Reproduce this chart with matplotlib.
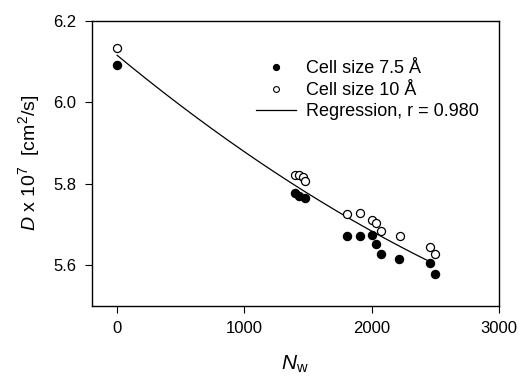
import numpy as np
import matplotlib
matplotlib.use("Agg")
import matplotlib.pyplot as plt
from matplotlib.lines import Line2D

plt.rcParams['font.family'] = ['Liberation Sans', 'DejaVu Sans']
plt.rcParams['mathtext.fontset'] = 'custom'
plt.rcParams['mathtext.rm'] = 'Liberation Sans'
plt.rcParams['mathtext.it'] = 'Liberation Sans:italic'

# Cell size 7.5 Å (filled)
nw_75 = [0, 1395, 1430, 1475, 1809, 1908, 2005, 2034, 2071, 2217, 2457, 2497]
d_75 = [6.092, 5.776, 5.770, 5.764, 5.671, 5.671, 5.673, 5.651, 5.627, 5.614, 5.604, 5.578]

# Cell size 10 Å (open)
nw_10 = [0, 1395, 1430, 1460, 1475, 1809, 1908, 2000, 2034, 2071, 2222, 2457, 2497]
d_10 = [6.132, 5.821, 5.821, 5.816, 5.807, 5.725, 5.727, 5.710, 5.702, 5.684, 5.671, 5.645, 5.627]

# Regression curve (quadratic)
reg_coef = [2.107e-8, -2.581e-4, 6.115]
reg_range = [0, 2460]

fig = plt.figure(figsize=(5.19, 3.78), dpi=100)
ax = fig.add_axes([0.1767, 0.1913, 0.9615 - 0.1767, 0.9452 - 0.1913])

xr = np.linspace(reg_range[0], reg_range[1], 200)
ax.plot(xr, np.polyval(reg_coef, xr), color='black', lw=0.9)
ax.plot(nw_75, d_75, 'o', color='black', ms=5.8, mec='black', ls='none')
ax.plot(nw_10, d_10, 'o', mfc='white', mec='black', ms=5.8, mew=0.9, ls='none')

ax.set_xlim(-200, 3000)
ax.set_ylim(5.5, 6.2)
ax.set_xticks([0, 1000, 2000, 3000])
ax.set_yticks([5.6, 5.8, 6.0, 6.2])
ax.set_yticklabels(['5.6', '5.8', '6.0', '6.2'])
ax.tick_params(direction='out', length=5, width=0.8, labelsize=12, pad=6)
for s in ax.spines.values():
    s.set_linewidth(1.0)

ax.set_xlabel('$N$$_\\mathrm{w}$', fontsize=15, labelpad=13)
ax.set_ylabel('$D$ x 10$^7$  [cm$^2$/s]', fontsize=14, labelpad=8)

handles = [
    Line2D([], [], marker='o', color='black', ls='none', ms=4.2),
    Line2D([], [], marker='o', mfc='white', mec='black', ls='none', ms=4.2, mew=0.8),
    Line2D([], [], color='black', lw=0.9),
]
labels = ['Cell size 7.5 Å', 'Cell size 10 Å', 'Regression, r = 0.980']
ax.legend(handles, labels, loc='upper left', bbox_to_anchor=(0.403, 0.861),
          frameon=False, fontsize=13, handlelength=2.2, handletextpad=0.59,
          labelspacing=0.25, borderaxespad=0, borderpad=0)

fig.savefig('out.png', dpi=100)
